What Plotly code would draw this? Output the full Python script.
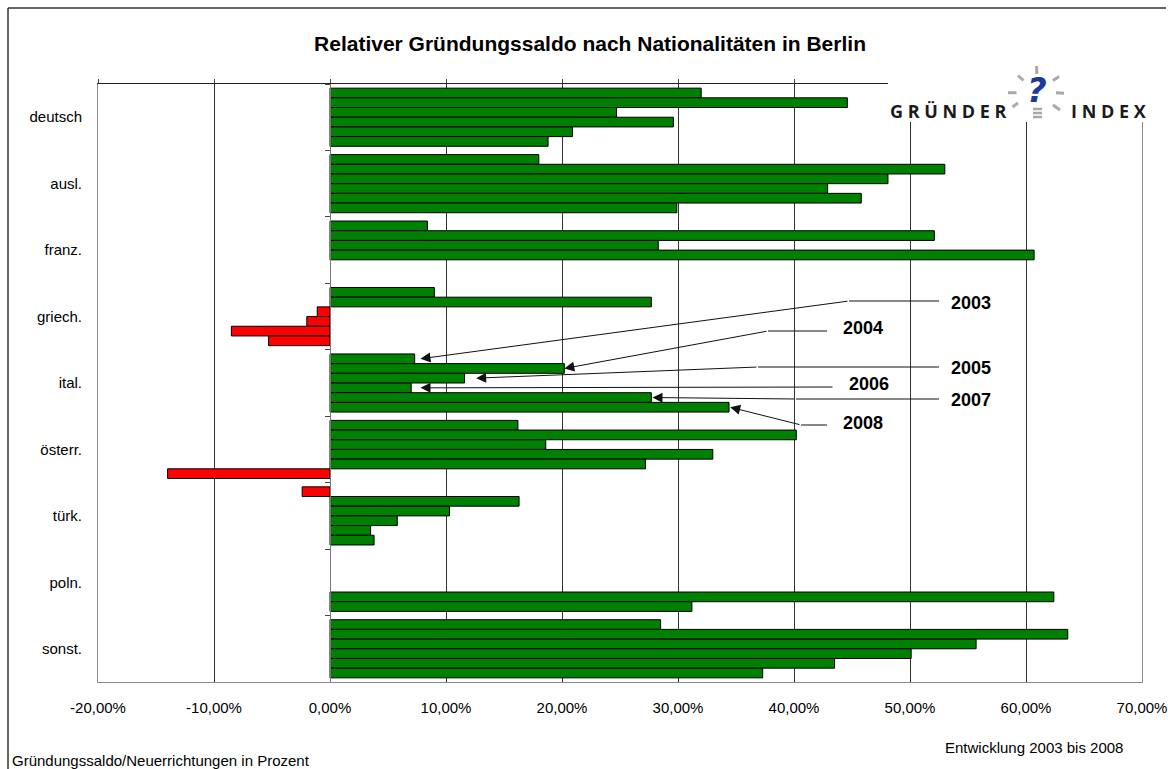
import plotly.graph_objects as go

categories = ["deutsch", "ausl.", "franz.", "griech.", "ital.", "österr.", "türk.", "poln.", "sonst."]
years = ["2003", "2004", "2005", "2006", "2007", "2008"]

# Gründungssaldo in % per year, one list per year in category order
v2003 = [32.0, 18.0, 8.4, 9.0, 7.3, 16.2, -2.4, None, 28.5]
v2004 = [44.6, 53.0, 52.1, 27.7, 20.2, 40.2, 16.3, None, 63.6]
v2005 = [24.7, 48.1, 28.3, -1.1, 11.6, 18.6, 10.3, None, 55.7]
v2006 = [29.6, 42.9, 60.7, -2.0, 7.0, 33.0, 5.8, None, 50.1]
v2007 = [20.9, 45.8, None, -8.5, 27.7, 27.2, 3.5, 62.4, 43.5]
v2008 = [18.8, 29.9, None, -5.3, 34.4, -14.0, 3.8, 31.2, 37.3]
series = [v2003, v2004, v2005, v2006, v2007, v2008]

tick_vals = [-20, -10, 0, 10, 20, 30, 40, 50, 60, 70]
tick_text = ["-20,00%", "-10,00%", "0,00%", "10,00%", "20,00%", "30,00%",
             "40,00%", "50,00%", "60,00%", "70,00%"]

GREEN = "#008000"
RED = "#FF0000"
FONT = "Liberation Sans, Arial, sans-serif"

# plot area in pixels (used for placing decorations)
L, R, T, B = 98, 1142, 84, 682
W, H = R - L, B - T


def px_x(p):
    return (p - L) / W


def px_y(p):
    return (B - p) / H


def dx(p):  # pixel -> value axis
    return (p - 330) / 11.6


def dy(p):  # pixel -> category axis index
    return (p - T) / ((B - T) / 9) - 0.5


fig = go.Figure()

for yr, vals in zip(years, series):
    fig.add_trace(go.Bar(
        name=yr,
        y=categories,
        x=vals,
        orientation="h",
        marker=dict(color=[RED if (v is not None and v < 0) else GREEN for v in vals],
                    line=dict(color="#000000", width=1)),
    ))

# helper trace for the category axis drawn at 0 %
fig.add_trace(go.Scatter(x=[0] * len(categories), y=categories, mode="markers",
                         marker=dict(opacity=0), xaxis="x2", yaxis="y2",
                         hoverinfo="skip", showlegend=False))

fig.update_layout(
    width=1168, height=769,
    margin=dict(l=L, r=1168 - R, t=T, b=769 - B, autoexpand=False),
    paper_bgcolor="white", plot_bgcolor="white",
    barmode="group", bargap=0.125, bargroupgap=0,
    showlegend=False,
    font=dict(family=FONT, size=15, color="#000000"),
    title=dict(text="<b>Relativer Gründungssaldo nach Nationalitäten in Berlin</b>",
               x=590 / 1168, xanchor="center", y=1 - 44 / 769, yanchor="middle",
               font=dict(family=FONT, size=21, color="#000000")),
    xaxis=dict(range=[-20, 70], tickvals=tick_vals, ticktext=tick_text,
               showgrid=True, gridcolor="#333333", gridwidth=1,
               showline=True, linecolor="#888888", linewidth=1,
               zeroline=False, ticks="", ticklabelstandoff=12,
               tickfont=dict(size=15), automargin=False),
    xaxis2=dict(range=[-20, 70], overlaying="x", side="top", anchor="y",
                tickvals=tick_vals, showticklabels=False, showgrid=False,
                zeroline=False, showline=True, linecolor="#222222", linewidth=1,
                ticks="outside", ticklen=4, tickcolor="#444444", automargin=False),
    yaxis=dict(type="category", categoryorder="array", categoryarray=categories,
               range=[8.5, -0.5], showgrid=False, showline=True, mirror=True,
               linecolor="#888888", linewidth=1, ticks="", ticklabelstandoff=12,
               tickfont=dict(size=15), automargin=False),
    yaxis2=dict(type="category", categoryorder="array", categoryarray=categories,
                range=[8.5, -0.5], overlaying="y", anchor="free", position=20 / 90,
                showgrid=False, showticklabels=False, showline=True,
                linecolor="#777777", linewidth=1, ticks="outside", ticklen=5,
                tickson="boundaries", tickcolor="#444444", automargin=False),
)

# year leaders in the "ital." group
cat_idx = categories.index("ital.")
n = len(years)
slot = (1 - 0.125) / n
tip_pad = [0.5, 0.0, 1.0, 0.8, 0.1, 0.1]
elbows = [(849, 301), (768, 331), (758, 367), (834, 387), (796, 399), (801, 425)]
line_ends = [939, 827, 939, None, 939, 827]
labels = [(949, 303), (841, 328), (949, 368), (847, 384), (949, 400), (841, 423)]

for j, yr in enumerate(years):
    tip_x = series[j][cat_idx] + tip_pad[j]
    tip_y = cat_idx - (1 - 0.125) / 2 + (j + 0.5) * slot
    ex, ey = elbows[j]
    fig.add_annotation(x=tip_x, y=tip_y, ax=dx(ex), ay=dy(ey), axref="x", ayref="y",
                       xref="x", yref="y", text="", showarrow=True,
                       arrowhead=2, arrowsize=2, arrowwidth=1, arrowcolor="#111111",
                       standoff=0)
    if line_ends[j] is not None:
        fig.add_shape(type="line", xref="x", yref="y", x0=dx(ex), x1=dx(line_ends[j]),
                      y0=dy(ey), y1=dy(ey), line=dict(color="#111111", width=1))
    lx, ly = labels[j]
    fig.add_annotation(x=px_x(lx), y=px_y(ly), xref="paper", yref="paper",
                       text="<b>%s</b>" % yr, showarrow=False, xanchor="left",
                       yanchor="middle", font=dict(family=FONT, size=18, color="#000000"))

# logo area (white block covering top line / grid)
fig.add_shape(type="rect", xref="paper", yref="paper", layer="above",
              x0=px_x(888), x1=px_x(1166), y0=px_y(56), y1=px_y(122),
              fillcolor="white", line=dict(width=0))
rays = [((1036.7, 66), (1036.7, 74)), ((1018, 75.5), (1023.5, 80.5)),
        ((1008, 92.7), (1016.5, 92.7)), ((1012.5, 107), (1018, 103)),
        ((1053, 80.5), (1059, 76.5)), ((1056, 92.7), (1064, 93.3)),
        ((1053, 105), (1060, 110))]
for (x0, y0), (x1, y1) in rays:
    fig.add_shape(type="line", xref="paper", yref="paper", layer="above",
                  x0=px_x(x0), y0=px_y(y0), x1=px_x(x1), y1=px_y(y1),
                  line=dict(color="#a9a9a9", width=3))
for yy in (109, 113, 117):
    fig.add_shape(type="line", xref="paper", yref="paper", layer="above",
                  x0=px_x(1033), x1=px_x(1042), y0=px_y(yy), y1=px_y(yy),
                  line=dict(color="#a9a9a9", width=2.5))
fig.add_annotation(x=px_x(1037), y=px_y(90), xref="paper", yref="paper",
                   text="<b><i>?</i></b>", showarrow=False,
                   xanchor="center", yanchor="middle",
                   font=dict(family="DejaVu Sans", size=34, color="#1a3a9c"))
fig.add_annotation(x=px_x(888), y=px_y(111), xref="paper", yref="paper",
                   text="<b>G R Ü N D E R</b>", showarrow=False, xanchor="left",
                   yanchor="middle", font=dict(family="Open Sans", size=18, color="#1a1a1a"))
fig.add_annotation(x=px_x(1069), y=px_y(111), xref="paper", yref="paper",
                   text="<b>I N D E X</b>", showarrow=False, xanchor="left",
                   yanchor="middle", font=dict(family="Open Sans", size=18, color="#1a1a1a"))

# footnotes
fig.add_annotation(x=px_x(10), y=px_y(760), xref="paper", yref="paper",
                   text="Gründungssaldo/Neuerrichtungen in Prozent", showarrow=False,
                   xanchor="left", yanchor="middle", font=dict(size=15))
fig.add_annotation(x=px_x(943), y=px_y(747), xref="paper", yref="paper",
                   text="Entwicklung 2003 bis 2008", showarrow=False,
                   xanchor="left", yanchor="middle", font=dict(size=15))

# outer chart frame (left and top edges)
fig.add_shape(type="line", xref="paper", yref="paper", x0=px_x(8), x1=px_x(8),
              y0=px_y(8), y1=px_y(775), line=dict(color="#333333", width=1.5))
fig.add_shape(type="line", xref="paper", yref="paper", x0=px_x(8), x1=px_x(1166),
              y0=px_y(8), y1=px_y(8), line=dict(color="#333333", width=1.5))

# the page's default body margin would push the 1168x769 figure out of the window
fig.write_html("out.html", config={"displayModeBar": False},
               post_script="document.body.style.margin='0';document.body.style.overflow='hidden';")
